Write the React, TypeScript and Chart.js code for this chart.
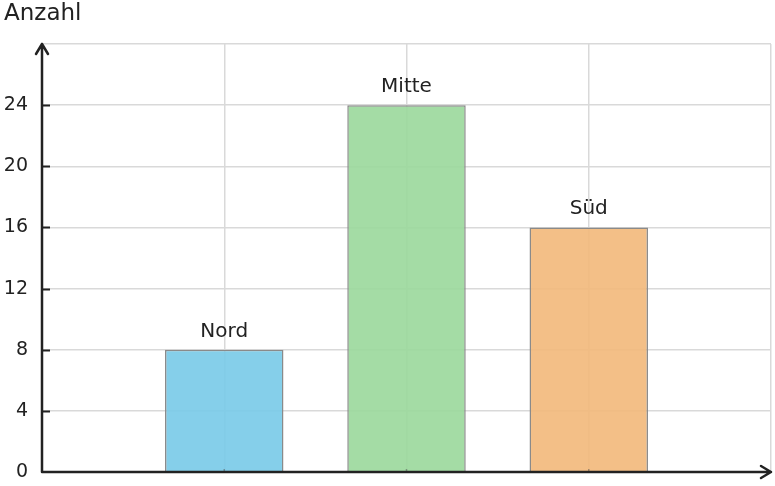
import { useEffect, useRef } from "react";
import { Chart, registerables } from "chart.js";

Chart.register(...registerables);

// slots on the x axis: empty at both ends, bars in the middle
const categories = ["", "Nord", "Mitte", "Süd", ""];
const counts = [null, 8, 24, 16, null];
const yTicks = [0, 4, 8, 12, 16, 20, 24];
const yMax = 28;
const yLabel = "Anzahl";

const barColors = [
  "rgba(0,0,0,0)",
  "rgba(120,202,232,0.9)",
  "rgba(154,216,155,0.9)",
  "rgba(242,184,122,0.9)",
  "rgba(0,0,0,0)",
];

const FONT = "'DejaVu Sans', sans-serif";
const INK = "#222222";

const axisPlugin = {
  id: "axisArrows",
  afterDraw(chart: any) {
    const ctx = chart.ctx;
    const { left, right, top, bottom } = chart.chartArea;
    const x = chart.scales.x;
    const y = chart.scales.y;
    ctx.save();

    // bar labels
    const meta = chart.getDatasetMeta(0);
    ctx.font = `20px ${FONT}`;
    ctx.fillStyle = INK;
    ctx.textAlign = "center";
    ctx.textBaseline = "alphabetic";
    meta.data.forEach((bar: any, i: number) => {
      if (counts[i] == null) return;
      ctx.fillText(categories[i], bar.x, bar.y - 13);
    });

    // y tick marks
    ctx.strokeStyle = INK;
    ctx.lineWidth = 2;
    yTicks.forEach((t) => {
      if (t === 0) return;
      const py = Math.round(y.getPixelForValue(t)) + 0.5;
      ctx.beginPath();
      ctx.moveTo(left, py);
      ctx.lineTo(left + 8, py);
      ctx.stroke();
    });

    // x small tick marks at categories
    ctx.lineWidth = 1.5;
    ctx.strokeStyle = "rgba(80,80,80,0.5)";
    categories.forEach((c, i) => {
      if (!c) return;
      const px = x.getPixelForValue(i);
      ctx.beginPath();
      ctx.moveTo(px, bottom);
      ctx.lineTo(px, bottom - 3);
      ctx.stroke();
    });

    // axes with arrows
    ctx.strokeStyle = INK;
    ctx.lineWidth = 2.5;
    ctx.lineCap = "round";
    ctx.lineJoin = "round";
    ctx.beginPath();
    ctx.moveTo(left, bottom);
    ctx.lineTo(left, top);
    ctx.moveTo(left - 6, top + 10);
    ctx.lineTo(left, top);
    ctx.lineTo(left + 6, top + 10);
    ctx.moveTo(left, bottom);
    ctx.lineTo(right, bottom);
    ctx.moveTo(right - 10, bottom - 6);
    ctx.lineTo(right, bottom);
    ctx.lineTo(right - 10, bottom + 6);
    ctx.stroke();

    // axis title
    ctx.font = `23px ${FONT}`;
    ctx.fillStyle = INK;
    ctx.textAlign = "left";
    ctx.textBaseline = "middle";
    ctx.fillText(yLabel, 4, 14);
    ctx.restore();
  },
};

function App() {
  const chartRef = useRef<HTMLCanvasElement | null>(null);
  const chartInstanceRef = useRef<Chart | null>(null);

  useEffect(() => {
    document.body.style.margin = "0";
    if (!chartRef.current) return;
    const ctx = chartRef.current.getContext("2d");
    if (!ctx) return;

    chartInstanceRef.current?.destroy();
    chartInstanceRef.current = new Chart(ctx, {
      type: "bar",
      data: {
        labels: categories,
        datasets: [
          {
            data: counts as any,
            backgroundColor: barColors,
            borderColor: "#8a8a8a",
            borderWidth: 1.5,
            categoryPercentage: 1,
            barPercentage: 0.65,
          },
        ],
      },
      options: {
        responsive: false,
        animation: false,
        layout: { padding: { top: 44, right: 4, left: 0, bottom: 0 } },
        plugins: {
          legend: { display: false },
          tooltip: { enabled: false },
        },
        scales: {
          x: {
            offset: false,
            grid: {
              color: "#d9d9d9",
              lineWidth: 1.5,
              drawTicks: false,
              offset: false,
            },
            border: { display: false },
            ticks: { display: false },
            afterFit: (scale: any) => {
              scale.height = 14;
            },
          },
          y: {
            min: 0,
            max: yMax,
            grid: { color: "#d9d9d9", lineWidth: 1.5, drawTicks: false },
            border: { display: false },
            ticks: {
              stepSize: 4,
              padding: 14,
              color: INK,
              font: { family: FONT, size: 19 },
              callback: (v: any) => (yTicks.includes(v) ? String(v) : ""),
            },
            afterFit: (scale: any) => {
              scale.width = 42;
              scale.paddingTop = 0;
              scale.paddingBottom = 0;
            },
          },
        },
      } as any,
      plugins: [axisPlugin],
    });

    return () => {
      chartInstanceRef.current?.destroy();
      chartInstanceRef.current = null;
    };
  }, []);

  return (
    <div style={{ width: 775, height: 486, background: "#fff" }}>
      <canvas ref={chartRef} width={775} height={486} style={{ display: "block" }} />
    </div>
  );
}

export default App;
